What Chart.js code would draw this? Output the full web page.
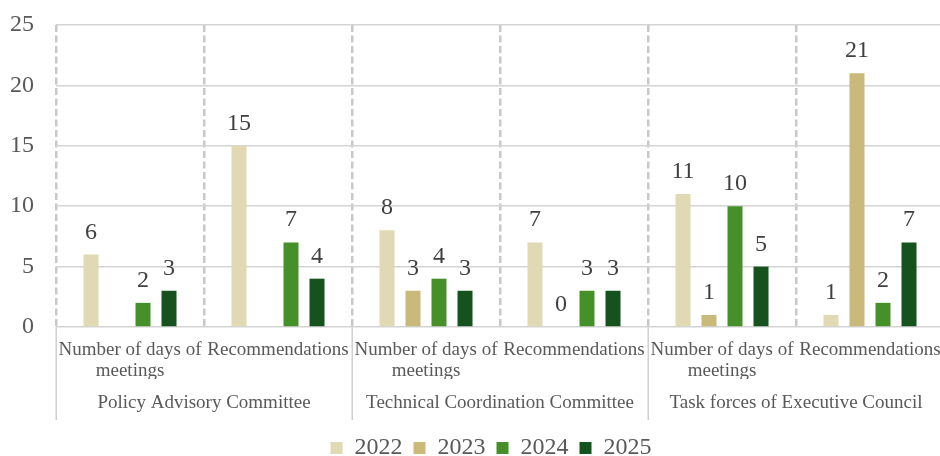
<!DOCTYPE html>
<html>
<head>
<meta charset="utf-8">
<script src="https://cdn.jsdelivr.net/npm/chart.js@4"></script>
<style>
  html, body { margin: 0; padding: 0; background: #fff; overflow: hidden; }
</style>
</head>
<body>
<canvas id="meetingsChart" width="944" height="456"></canvas>
<script>
// datos del grafico
const categories = [
    ['Number of days of', 'meetings'], ['Recommendations'],
    ['Number of days of', 'meetings'], ['Recommendations'],
    ['Number of days of', 'meetings'], ['Recommendations'],
];
const groups = ['Policy Advisory Committee', 'Technical Coordination Committee', 'Task forces of Executive Council'];
const years = ['2022', '2023', '2024', '2025'];
const values2022 = [6, 15, 8, 7, 11, 1];
const values2023 = [null, null, 3, 0, 1, 21];
const values2024 = [2, 7, 4, 3, 10, 2];
const values2025 = [3, 4, 3, 3, 5, 7];
const yTicks = [0, 5, 10, 15, 20, 25];

const colors = ['#e0d9b3', '#c9b97a', '#46902a', '#15521e'];
const serif = 'Liberation Serif';

// etiquetas de valor sobre cada barra
const valueLabels = {
    id: 'valueLabels',
    afterDatasetsDraw(chart) {
        const ctx = chart.ctx;
        ctx.save();
        ctx.font = `24px "${serif}"`;
        ctx.fillStyle = '#404040';
        ctx.textAlign = 'center';
        ctx.textBaseline = 'alphabetic';
        chart.data.datasets.forEach((ds, i) => {
            const meta = chart.getDatasetMeta(i);
            meta.data.forEach((bar, j) => {
                const v = ds.data[j];
                if (v === null || v === undefined) return;
                ctx.fillText(v, bar.x, bar.y - 16);
            });
        });
        ctx.restore();
    }
};

// mueve la leyenda un poco a la derecha como en el original
const legendShift = {
    id: 'legendShift',
    afterLayout(chart) {
        chart.legend.left += 19;
        chart.legend.right += 19;
    }
};

const chartDatos = {
    labels: categories,
    datasets: [values2022, values2023, values2024, values2025].map((data, i) => ({
        label: years[i],
        data: data,
        backgroundColor: colors[i],
        borderWidth: 0,
        categoryPercentage: 0.703,
        barPercentage: 0.577,
    })),
};

const ctx = document.getElementById('meetingsChart').getContext('2d');
new Chart(ctx, {
    type: 'bar',
    data: chartDatos,
    plugins: [valueLabels, legendShift],
    options: {
        responsive: false,
        animation: false,
        devicePixelRatio: 1,
        layout: { padding: { top: 25, bottom: -14, left: 0, right: 0 } },
        plugins: {
            tooltip: { enabled: false },
            legend: {
                position: 'bottom',
                labels: {
                    boxWidth: 12,
                    boxHeight: 12,
                    padding: 11,
                    color: '#595959',
                    font: { family: serif, size: 24 },
                },
            },
        },
        scales: {
            x: {
                offset: true,
                grid: {
                    offset: true,
                    color: '#c8c8c8',
                    lineWidth: 2.5,
                    drawTicks: true,
                    tickLength: 93,
                    tickWidth: 1.5,
                    tickColor: (c) => (c.index % 2 === 0 ? '#d0d0d0' : 'rgba(0,0,0,0)'),
                },
                border: { display: false, dash: [7, 3.5] },
                ticks: {
                    autoSkip: false,
                    maxRotation: 0,
                    minRotation: 0,
                    padding: -81,
                    color: '#595959',
                    font: { family: serif, size: 19, lineHeight: 1.12 },
                },
                afterFit: (scale) => { scale.height = 52; },
            },
            x2: {
                type: 'category',
                labels: groups,
                position: 'bottom',
                weight: 1,
                offset: true,
                grid: { display: false },
                border: { display: false },
                ticks: {
                    autoSkip: false,
                    maxRotation: 0,
                    padding: 6,
                    color: '#595959',
                    font: { family: serif, size: 19, lineHeight: 1.05 },
                },
                afterFit: (scale) => { scale.height = 46; },
            },
            y: {
                min: yTicks[0],
                max: yTicks[yTicks.length - 1],
                afterBuildTicks: (scale) => { scale.ticks = yTicks.map((v) => ({ value: v })); },
                grid: {
                    color: '#d4d4d4',
                    lineWidth: 1.5,
                    drawTicks: true,
                    tickLength: 22,
                    tickColor: 'rgba(0,0,0,0)',
                },
                border: { display: false },
                ticks: {
                    padding: 0,
                    color: '#595959',
                    font: { family: serif, size: 24 },
                },
                afterFit: (scale) => { scale.width = 56; },
            },
        },
    },
});
</script>
</body>
</html>
